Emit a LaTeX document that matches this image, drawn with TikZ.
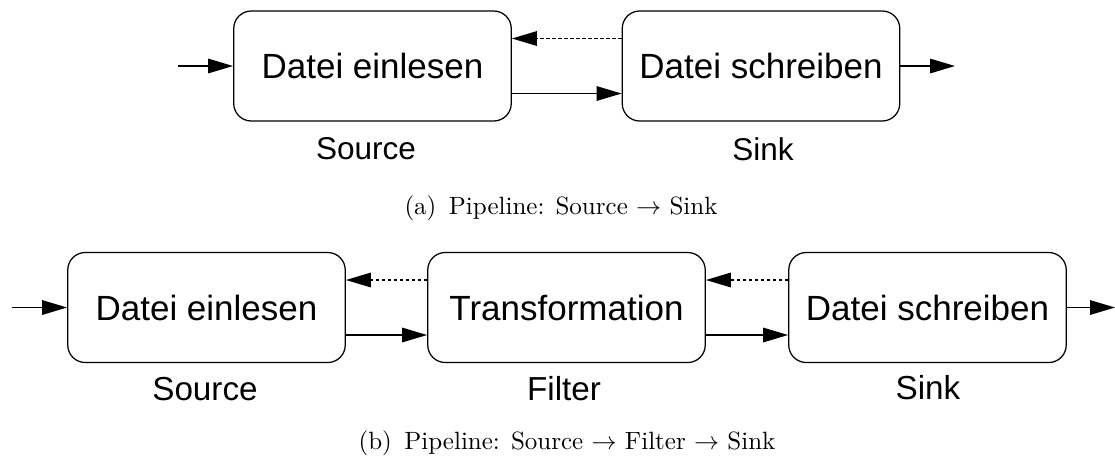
\documentclass[tikz,border=0pt]{standalone}
\usepackage{fontspec}
\newfontfamily\arialfont{Liberation Sans}
\usetikzlibrary{arrows.meta}
\tikzset{
	box/.style={draw,rounded corners=7pt,minimum width=111pt,minimum height=44pt,line width=0.5pt,font=\arialfont\fontsize{14}{16}\selectfont},
	lbl/.style={font=\arialfont\fontsize{12.6}{15}\selectfont},
	blbl/.style={font=\arialfont\fontsize{13.3}{16}\selectfont},
	unterschrift/.style={font=\fontsize{10}{12}\selectfont},
	pfeil/.style={-{Triangle[length=10pt,width=5.8pt]},line width=0.6pt},
	rpfeil/.style={pfeil,dash pattern=on 1.4pt off 1pt}
}

\begin{document}
\begin{tikzpicture}[x=0.4pt,y=-0.4pt]
	\useasboundingbox (0,0) rectangle (1115,463);

	% (a) Source -> Sink
	\node [box] (a1) at (372.5,66) {Datei einlesen};
	\node [box] (a2) at (761,66) {Datei schreiben};
	\coordinate (ain) at (178,66);
	\coordinate (aout) at (955,66);

	\draw [pfeil] (ain) -- (a1);
	\draw [pfeil] (a2) -- (aout);
	\draw [pfeil] ([yshift=-11pt]a1.east) -- ([yshift=-11pt]a2.west);
	\draw [rpfeil] ([yshift=11pt]a2.west) -- ([yshift=11pt]a1.east);

	\node [lbl] (asrc) at (366,149) {Source};
	\node [lbl] (asink) at (763,149) {Sink};
	\node [unterschrift] (acap) at (561,208) {(a)\enspace Pipeline: Source $\rightarrow$ Sink};

	% (b) Source -> Filter -> Sink
	\node [box] (b1) at (206.5,307.5) {Datei einlesen};
	\node [box] (b2) at (566.5,307.5) {Transformation};
	\node [box] (b3) at (927.5,307.5) {Datei schreiben};
	\coordinate (bin) at (12,307.5);
	\coordinate (bout) at (1115,307.5);

	\draw [pfeil] (bin) -- (b1);
	\draw [pfeil] (b3) -- (bout);
	\draw [pfeil] ([yshift=-11pt]b1.east) -- ([yshift=-11pt]b2.west);
	\draw [pfeil] ([yshift=-11pt]b2.east) -- ([yshift=-11pt]b3.west);
	\draw [rpfeil] ([yshift=11pt]b2.west) -- ([yshift=11pt]b1.east);
	\draw [rpfeil] ([yshift=11pt]b3.west) -- ([yshift=11pt]b2.east);

	\node [blbl] (bsrc) at (205,389) {Source};
	\node [blbl] (bfil) at (564,389) {Filter};
	\node [blbl] (bsink) at (928,388) {Sink};
	\node [unterschrift] (bcap) at (567,443) {(b)\enspace Pipeline: Source $\rightarrow$ Filter $\rightarrow$ Sink};
\end{tikzpicture}
\end{document}
